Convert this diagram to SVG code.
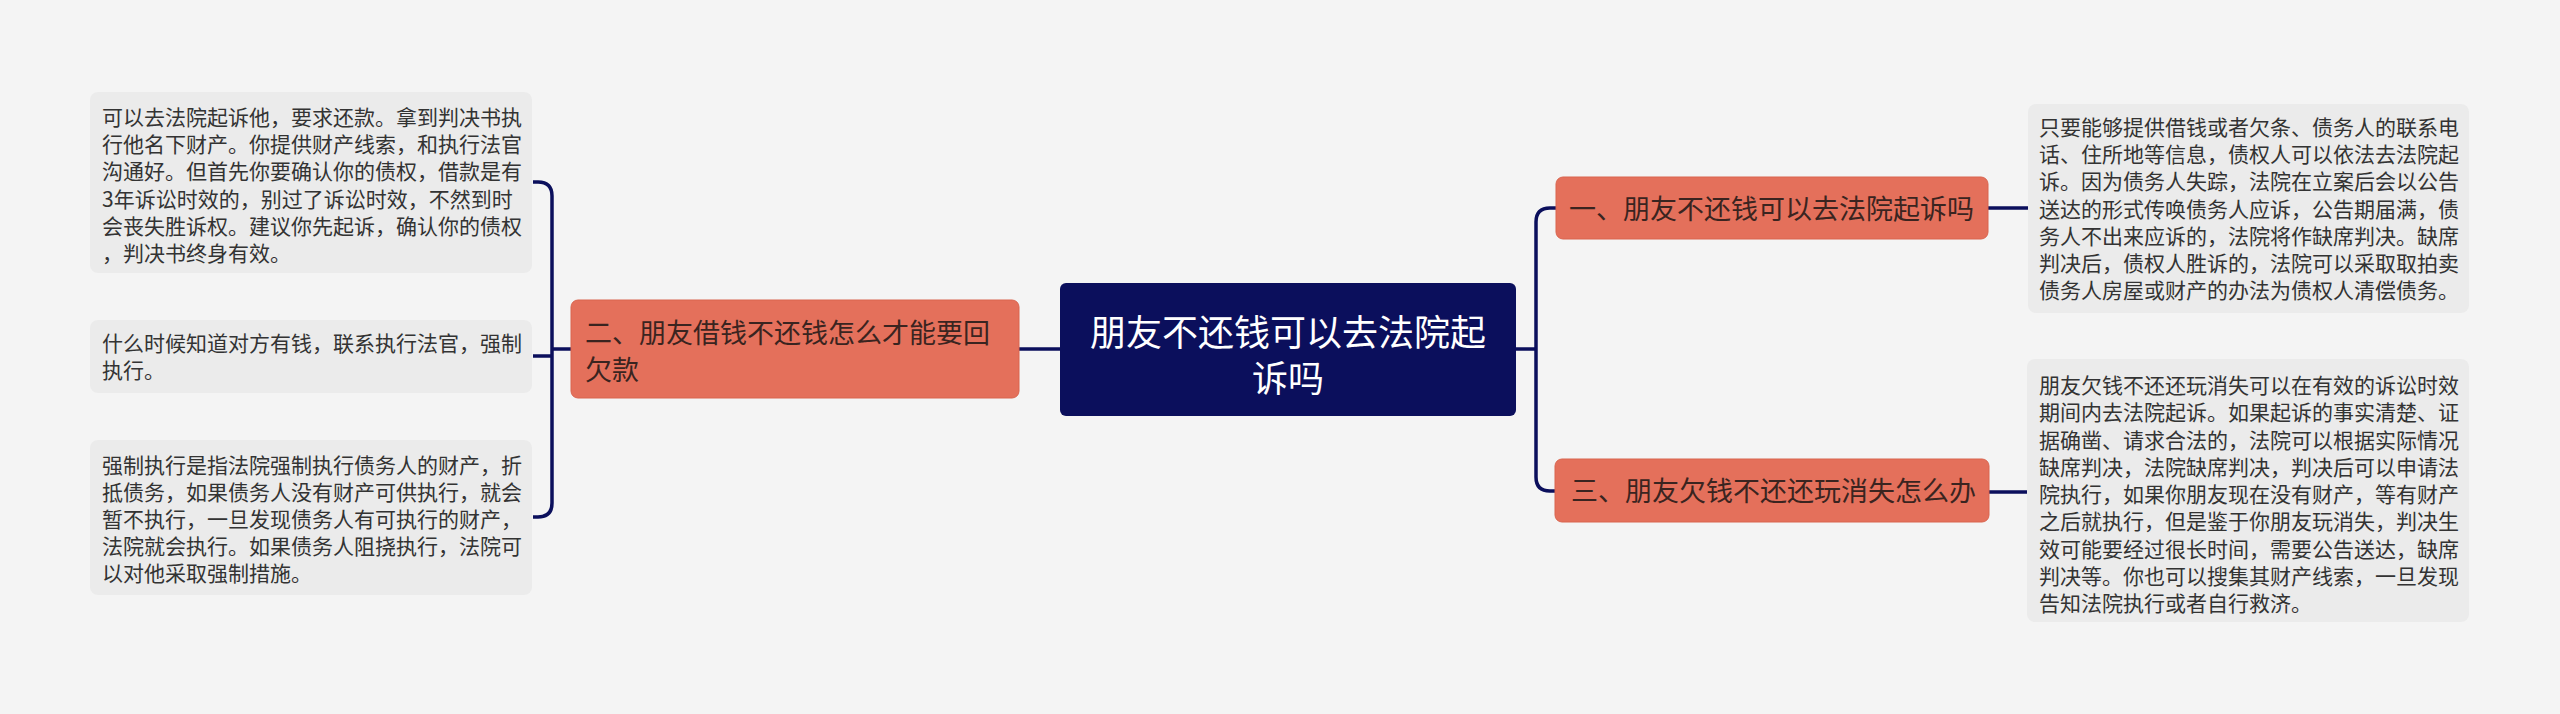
<svg xmlns="http://www.w3.org/2000/svg" width="2560" height="714" viewBox="0 0 2560 714">
<style>
.bg{fill:#f4f4f4}
.tb{fill:#ebebeb}
.br{fill:#e4705b;stroke:#d9654f;stroke-width:1}
.ct{fill:#0b0f5c}
.t{font-family:"Noto Sans CJK SC","Noto Sans",sans-serif;font-size:21px;fill:#333333}
.bt{font-family:"Noto Sans CJK SC","Noto Sans",sans-serif;font-size:27px;fill:#3a2420}
.mt{font-family:"Noto Sans CJK SC","Noto Sans",sans-serif;font-size:36px;fill:#ffffff}
.ln{fill:none;stroke:#0b0f5c;stroke-width:3.5}
</style>
<rect class="bg" x="0" y="0" width="2560" height="714"/>
<g id="connectors">
<path class="ln" d="M1019 349 H1060"/>
<path class="ln" d="M1516 349 H1536"/>
<path class="ln" d="M1556 208 H1550 Q1536 208 1536 222 V477 Q1536 491 1550 491 H1556"/>
<path class="ln" d="M1988 208 H2028"/>
<path class="ln" d="M1989 492 H2027"/>
<path class="ln" d="M571 349 H552"/>
<path class="ln" d="M533 182 H538 Q552 182 552 196 V503 Q552 517 538 517 H533"/>
<path class="ln" d="M533 356 H552"/>
</g>
<g id="center">
<rect class="ct" x="1060" y="283" width="456" height="133" rx="6"/>
<text class="mt" x="1288" y="346" text-anchor="middle">朋友不还钱可以去法院起<tspan x="1288" dy="46">诉吗</tspan></text>
</g>
<g id="branch1">
<rect class="br" x="1556" y="177" width="432" height="62" rx="7"/>
<text class="bt" x="1569" y="219">一、朋友不还钱可以去法院起诉吗</text>
</g>
<g id="branch3">
<rect class="br" x="1555" y="459" width="434" height="63" rx="7"/>
<text class="bt" x="1571" y="501">三、朋友欠钱不还还玩消失怎么办</text>
</g>
<g id="branch2">
<rect class="br" x="571" y="300" width="448" height="98" rx="7"/>
<text class="bt" x="585" y="343">二、朋友借钱不还钱怎么才能要回<tspan x="585" dy="37">欠款</tspan></text>
</g>
<g id="leaf1">
<rect class="tb" x="2028" y="104" width="441" height="209" rx="8"/>
<text class="t" x="2039" y="135">只要能够提供借钱或者欠条、债务人的联系电<tspan x="2039" dy="27.2">话、住所地等信息，债权人可以依法去法院起</tspan><tspan x="2039" dy="27.2">诉。因为债务人失踪，法院在立案后会以公告</tspan><tspan x="2039" dy="27.2">送达的形式传唤债务人应诉，公告期届满，债</tspan><tspan x="2039" dy="27.2">务人不出来应诉的，法院将作缺席判决。缺席</tspan><tspan x="2039" dy="27.2">判决后，债权人胜诉的，法院可以采取取拍卖</tspan><tspan x="2039" dy="27.2">债务人房屋或财产的办法为债权人清偿债务。</tspan></text>
</g>
<g id="leaf3">
<rect class="tb" x="2027" y="359" width="442" height="263" rx="8"/>
<text class="t" x="2039" y="393">朋友欠钱不还还玩消失可以在有效的诉讼时效<tspan x="2039" dy="27.25">期间内去法院起诉。如果起诉的事实清楚、证</tspan><tspan x="2039" dy="27.25">据确凿、请求合法的，法院可以根据实际情况</tspan><tspan x="2039" dy="27.25">缺席判决，法院缺席判决，判决后可以申请法</tspan><tspan x="2039" dy="27.25">院执行，如果你朋友现在没有财产，等有财产</tspan><tspan x="2039" dy="27.25">之后就执行，但是鉴于你朋友玩消失，判决生</tspan><tspan x="2039" dy="27.25">效可能要经过很长时间，需要公告送达，缺席</tspan><tspan x="2039" dy="27.25">判决等。你也可以搜集其财产线索，一旦发现</tspan><tspan x="2039" dy="27.25">告知法院执行或者自行救济。</tspan></text>
</g>
<g id="leaf2a">
<rect class="tb" x="90" y="92" width="442" height="181" rx="8"/>
<text class="t" x="102" y="125">可以去法院起诉他，要求还款。拿到判决书执<tspan x="102" dy="27.2">行他名下财产。你提供财产线索，和执行法官</tspan><tspan x="102" dy="27.2">沟通好。但首先你要确认你的债权，借款是有</tspan><tspan x="102" dy="27.2">3年诉讼时效的，别过了诉讼时效，不然到时</tspan><tspan x="102" dy="27.2">会丧失胜诉权。建议你先起诉，确认你的债权</tspan><tspan x="102" dy="27.2">，判决书终身有效。</tspan></text>
</g>
<g id="leaf2b">
<rect class="tb" x="90" y="320" width="442" height="73" rx="8"/>
<text class="t" x="102" y="351">什么时候知道对方有钱，联系执行法官，强制<tspan x="102" dy="27">执行。</tspan></text>
</g>
<g id="leaf2c">
<rect class="tb" x="90" y="440" width="442" height="155" rx="8"/>
<text class="t" x="102" y="473">强制执行是指法院强制执行债务人的财产，折<tspan x="102" dy="27">抵债务，如果债务人没有财产可供执行，就会</tspan><tspan x="102" dy="27">暂不执行，一旦发现债务人有可执行的财产，</tspan><tspan x="102" dy="27">法院就会执行。如果债务人阻挠执行，法院可</tspan><tspan x="102" dy="27">以对他采取强制措施。</tspan></text>
</g>
</svg>
